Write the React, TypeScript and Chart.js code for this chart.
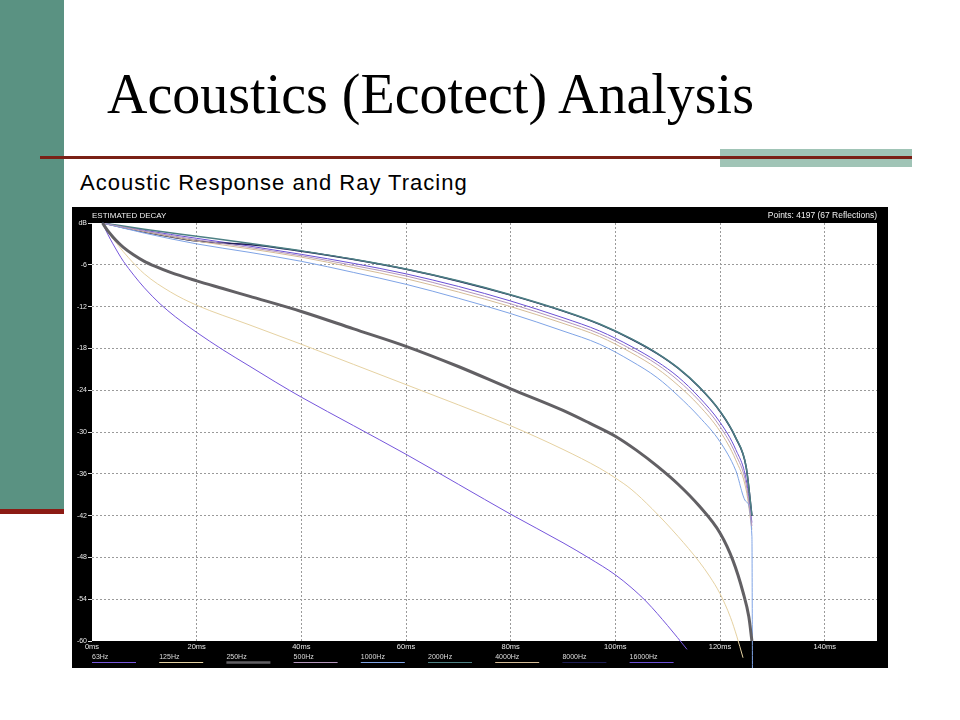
import React, { useEffect, useRef } from 'react';
import { Chart, registerables } from 'chart.js';

Chart.register(...registerables);

// ---- data ----
const bandLabels = ['63Hz', '125Hz', '250Hz', '500Hz', '1000Hz', '2000Hz', '4000Hz', '8000Hz', '16000Hz'];
const xTickValues = [0, 20, 40, 60, 80, 100, 120, 140];
const yTickValues = [0, -6, -12, -18, -24, -30, -36, -42, -48, -54, -60];

const t63 = [2, 3, 4, 5, 6, 8, 10, 13, 16, 20, 25, 30, 35, 40, 50, 60, 70, 80, 90, 95, 100, 103, 106, 110, 113.7];
const db63 = [0, -1.6, -3.0, -4.3, -5.5, -7.5, -9.3, -11.6, -13.5, -15.7, -18.2, -20.5, -22.8, -25, -29.1, -33.2, -37.5, -41.8, -45.9, -48.1, -50.5, -52.3, -54.4, -57.8, -61.2];

const t125 = [2, 3, 5, 7, 10, 15, 20, 30, 40, 50, 60, 70, 80, 90, 97, 100, 103, 107, 112, 116, 118, 120, 122, 123.2, 124.4];
const db125 = [0, -1.2, -3.2, -5, -7.3, -9.9, -11.8, -14.6, -17.4, -20.3, -23.2, -26.1, -29.1, -32.5, -35.2, -36.6, -38.2, -41, -45, -48.6, -50.7, -53.2, -56.6, -59.3, -62.4];

const t250 = [2, 3, 4, 5, 6, 8, 10, 12, 15, 20, 25, 30, 40, 50, 60, 70, 80, 90, 95, 100, 104, 108, 112, 116, 120, 122.5, 124.4, 125.5, 126.1];
const db250 = [0, -1.1, -2.0, -2.8, -3.5, -4.6, -5.5, -6.2, -7.1, -8.3, -9.4, -10.5, -12.7, -15.2, -17.7, -20.6, -23.8, -26.9, -28.7, -30.6, -32.6, -34.9, -37.5, -40.6, -44.5, -48.5, -53, -56.5, -60];

const tUpper = [2, 10, 20, 30, 40, 50, 60, 70, 80, 90, 97, 103, 108, 112, 116, 120, 123, 125, 126.1];
const db500 = [0, -1.15, -2.4, -3.5, -4.7, -6.1, -7.6, -9.5, -11.6, -14, -15.9, -18.1, -20.3, -22.6, -25.5, -29.2, -33.2, -37.5, -43.5];
const db2000 = [0, -0.9, -1.9, -2.9, -4, -5.2, -6.6, -8.3, -10.3, -12.6, -14.5, -16.6, -18.7, -20.8, -23.5, -27, -30.8, -35, -42];
const db4000 = [0, -1.25, -2.6, -3.7, -4.9, -6.4, -8, -9.9, -12, -14.4, -16.3, -18.6, -20.9, -23.3, -26.2, -29.9, -34, -38.3, -44];
const db16000 = [0, -1.05, -2.2, -3.3, -4.5, -5.8, -7.3, -9.1, -11.2, -13.6, -15.5, -17.7, -19.9, -22.1, -25, -28.6, -32.5, -36.8, -43];

const t1000 = [2, 10, 20, 30, 40, 50, 60, 70, 80, 90, 97, 103, 108, 112, 116, 120, 123, 125, 126.1, 126.2];
const db1000 = [0, -1.45, -3, -4.2, -5.5, -7.1, -8.8, -10.8, -13, -15.5, -17.4, -19.8, -22.2, -24.8, -27.8, -31.4, -35.5, -40, -45, -64];

const t8000 = [2, 10, 20, 24, 30, 40, 50, 60, 70, 80, 90, 97, 103, 108, 112, 116, 120, 123, 125, 126.1];
const db8000 = [0, -1.3, -2.6, -2.85, -3.1, -4.05, -5.25, -6.65, -8.35, -10.35, -12.65, -14.55, -16.65, -18.75, -20.85, -23.55, -27.05, -30.85, -35.05, -42.05];

const bandColors = ['#7656dc', '#e6d2a2', '#626064', '#b496bc', '#7fa4e6', '#4d8084', '#d6bd97', '#1e1e55', '#6a4fd6'];
const bandWidths = [1, 1, 3, 1, 1, 1.5, 1, 1.5, 1];

const seriesTimes = [t63, t125, t250, tUpper, t1000, tUpper, tUpper, t8000, tUpper];
const seriesValues = [db63, db125, db250, db500, db1000, db2000, db4000, db8000, db16000];
const overflowBelow = [true, true, false, false, true, false, false, false, false];

const FONT = '"Liberation Sans", Arial, sans-serif';

const decorPlugin = {
  id: 'decor',
  beforeDraw(chart: any) {
    const { ctx, chartArea: a, width, height } = chart;
    ctx.save();
    ctx.fillStyle = '#000';
    ctx.fillRect(0, 0, width, height);
    ctx.fillStyle = '#fff';
    ctx.fillRect(a.left, a.top, a.right - a.left, a.bottom - a.top);
    ctx.restore();
  },
  afterDraw(chart: any) {
    const { ctx, chartArea: a } = chart;
    ctx.save();
    ctx.fillStyle = '#f0f0f0';
    ctx.textBaseline = 'middle';
    ctx.font = `8px ${FONT}`;
    ctx.textAlign = 'left';
    ctx.fillText('ESTIMATED DECAY', a.left, 9);
    ctx.font = `8.5px ${FONT}`;
    ctx.textAlign = 'right';
    ctx.fillText('Points: 4197 (67 Reflections)', a.right, 9);
    // legend
    ctx.textAlign = 'left';
    ctx.font = `7px ${FONT}`;
    chart.data.datasets.forEach((ds: any, i: number) => {
      const x = a.left + i * 67.2;
      ctx.fillStyle = '#dcdcdc';
      ctx.fillText(ds.label, x, 450);
      ctx.strokeStyle = ds.borderColor;
      ctx.lineWidth = ds.label === '250Hz' ? 2.5 : 1;
      ctx.beginPath();
      ctx.moveTo(x, 455.5);
      ctx.lineTo(x + 44, 455.5);
      ctx.stroke();
    });
    ctx.restore();
  },
};

export default function App() {
  const ref = useRef<HTMLCanvasElement>(null);

  useEffect(() => {
    const datasets = bandLabels.map((label, i) => ({
      label,
      data: seriesTimes[i].map((t, k) => ({ x: t, y: seriesValues[i][k] })),
      borderColor: bandColors[i],
      backgroundColor: bandColors[i],
      borderWidth: bandWidths[i],
      pointRadius: 0,
      cubicInterpolationMode: 'monotone' as const,
      clip: overflowBelow[i] ? false : undefined,
      order: label === '250Hz' ? -1 : i,
    }));

    const chart = new Chart(ref.current!, {
      type: 'line',
      data: { datasets },
      plugins: [decorPlugin],
      options: {
        animation: false,
        responsive: false,
        devicePixelRatio: 1,
        layout: { padding: { top: 16, right: 11, left: 0, bottom: 0 } },
        plugins: { legend: { display: false }, tooltip: { enabled: false } },
        scales: {
          x: {
            type: 'linear',
            min: 0,
            max: 150,
            afterBuildTicks: (s: any) => {
              s.ticks = xTickValues.map((v) => ({ value: v }));
            },
            afterFit: (s: any) => {
              s.height = 27;
            },
            ticks: {
              color: '#e8e8e8',
              font: { size: 7.5, family: FONT },
              padding: 1,
              maxRotation: 0,
              autoSkip: false,
              callback: (v: any) => `${v}ms`,
            },
            grid: {
              drawTicks: false,
              color: (c: any) => (c.tick && c.tick.value === 0 ? 'rgba(0,0,0,0)' : '#9a9a9a'),
              lineWidth: 1,
            },
            border: { display: false, dash: [2, 2] },
          },
          y: {
            type: 'linear',
            min: -60,
            max: 0,
            afterBuildTicks: (s: any) => {
              s.ticks = yTickValues.map((v) => ({ value: v }));
            },
            afterFit: (s: any) => {
              s.width = 20;
            },
            ticks: {
              color: '#e8e8e8',
              font: { size: 7, family: FONT },
              padding: 1,
              autoSkip: false,
              callback: (v: any) => (v === 0 ? 'dB' : String(v)),
            },
            grid: {
              drawTicks: true,
              tickLength: 4,
              tickColor: '#dddddd',
              tickBorderDash: [],
              color: (c: any) =>
                c.tick && (c.tick.value === 0 || c.tick.value === -60) ? 'rgba(0,0,0,0)' : '#9a9a9a',
              lineWidth: 1,
            },
            border: { display: false, dash: [2, 2] },
          },
        },
      } as any,
    });
    return () => chart.destroy();
  }, []);

  return (
    <div
      style={{
        position: 'fixed',
        left: 0,
        top: 0,
        width: 960,
        height: 720,
        background: '#fff',
        overflow: 'hidden',
      }}
    >
      <div style={{ position: 'absolute', left: 0, top: 0, width: 64, height: 509, background: '#5a9282' }} />
      <div style={{ position: 'absolute', left: 0, top: 509, width: 64, height: 5, background: '#8c1b14' }} />
      <div style={{ position: 'absolute', left: 720, top: 149, width: 192, height: 18, background: '#a0c4b6' }} />
      <div style={{ position: 'absolute', left: 40, top: 156, width: 872, height: 2.5, background: '#7a2016' }} />
      <div
        style={{
          position: 'absolute',
          left: 107,
          top: 66,
          fontFamily: '"Liberation Serif", "Times New Roman", serif',
          fontSize: 56,
          lineHeight: '56px',
          color: '#000',
          whiteSpace: 'nowrap',
        }}
      >
        Acoustics (Ecotect) Analysis
      </div>
      <div
        style={{
          position: 'absolute',
          left: 80,
          top: 172,
          fontFamily: FONT,
          fontSize: 22,
          lineHeight: '22px',
          letterSpacing: 1,
          color: '#000',
          whiteSpace: 'nowrap',
        }}
      >
        Acoustic Response and Ray Tracing
      </div>
      <div style={{ position: 'absolute', left: 72, top: 207, width: 816, height: 461 }}>
        <canvas ref={ref} width={816} height={461} style={{ display: 'block', width: 816, height: 461 }} />
      </div>
    </div>
  );
}
